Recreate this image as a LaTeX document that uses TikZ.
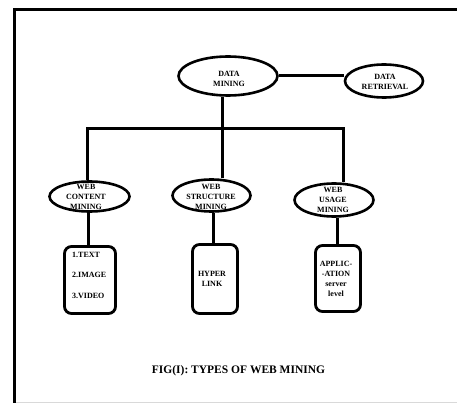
\documentclass[tikz,border=0pt]{standalone}
\usepackage{fontspec}
\setmainfont{Liberation Serif}
\usetikzlibrary{shapes.geometric}
\begin{document}
\begin{tikzpicture}[x=1pt,y=-1pt,
  ell/.style={draw,ellipse,line width=2.6pt,inner sep=0pt},
  rbox/.style={draw,rounded corners=7pt,line width=2.8pt,inner sep=0pt},
  conn/.style={line width=3pt},
  txt/.style={inner sep=0pt,align=center,font=\fontsize{8}{10}\selectfont\bfseries},
  frame/.style={line width=3pt}]
\useasboundingbox (0,0) rectangle (457,403);
% frame
\coordinate (ftl) at (14.5,10);
\coordinate (ftr) at (457,10);
\coordinate (fbl) at (14.5,403);
\draw[frame] (ftr) -- (ftl) -- (fbl);
\coordinate (gl) at (16,402);
\coordinate (gr) at (457,402);
\draw[black!15,line width=0.8pt] (gl) -- (gr);
% ellipses
\node[ell,minimum width=99pt,minimum height=39pt] (dm) at (228,76) {};
\node[txt] (dmt) at (229,78.5) {DATA\\MINING};
\node[ell,minimum width=78pt,minimum height=33pt] (dr) at (384,81) {};
\node[txt] (drt) at (385,82) {DATA\\RETRIEVAL};
\node[ell,minimum width=80pt,minimum height=30pt] (wc) at (89.5,196.5) {};
\node[txt] (wct) at (86,197) {WEB\\CONTENT\\MINING};
\node[ell,minimum width=78pt,minimum height=32pt] (ws) at (211.5,195.5) {};
\node[txt] (wst) at (211,197) {WEB\\STRUCTURE\\MINING};
\node[ell,minimum width=79pt,minimum height=33pt] (wu) at (334,200) {};
\node[txt] (wut) at (333,200) {WEB\\USAGE\\MINING};
% boxes
\node[rbox,minimum width=51pt,minimum height=67pt] (b1) at (90,280) {};
\node[txt,align=left,anchor=west,font=\fontsize{8}{20.5}\selectfont\bfseries] (b1t) at (72,275) {1.TEXT\\2.IMAGE\\3.VIDEO};
\node[rbox,minimum width=45pt,minimum height=69pt] (b2) at (215,279) {};
\node[txt] (b2t) at (212,279) {HYPER\\LINK};
\node[rbox,minimum width=45pt,minimum height=66pt] (b3) at (338,278.5) {};
\node[txt] (b3t) at (336,279) {APPLIC-\\-ATION\\server\\level};
% connectors
\coordinate (bus) at (222,129);
\coordinate (busl) at (87,129);
\coordinate (busr) at (343,129);
\draw[conn] (dm.east) -- (dr.west |- dm.east);
\draw[conn] (bus |- dm.south) -- (bus);
\draw[conn,line cap=rect] (busl) -- (busr);
\draw[conn] (busl) -- (busl |- wc.north);
\draw[conn] (bus) -- (bus |- ws.north);
\draw[conn] (busr) -- (busr |- wu.north);
\draw[conn] (88,213) coordinate (c1) -- (c1 |- b1.north);
\draw[conn] (213,213) coordinate (c2) -- (c2 |- b2.north);
\draw[conn] (337,218) coordinate (c3) -- (c3 |- b3.north);
% caption
\node[inner sep=0pt,font=\fontsize{11.5}{13}\selectfont\bfseries] (cap) at (238.5,371) {FIG(I): TYPES OF WEB MINING};
\end{tikzpicture}
\end{document}
